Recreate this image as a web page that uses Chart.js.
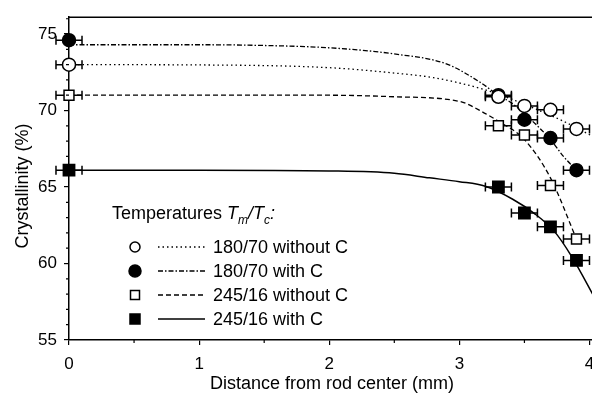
<!DOCTYPE html>
<html>
<head>
<meta charset="utf-8">
<script src="https://cdn.jsdelivr.net/npm/chart.js@4.4.1/dist/chart.umd.min.js"></script>
<style>
  html, body { margin: 0; padding: 0; background: #fff; overflow: hidden; }
  #wrap { width: 612px; height: 396px; }
</style>
</head>
<body>
<div id="wrap"><canvas id="chart" width="612" height="396"></canvas></div>
<script>
// measured points: distance (mm) vs crystallinity (%)
const pointX = [0, 3.3, 3.5, 3.7, 3.9];
const xErr = [0.1, 0.1, 0.1, 0.1, 0.1];
const open180 = [73.0, 70.9, 70.3, 70.05, 68.8];
const filled180 = [74.6, 71.0, 69.4, 68.2, 66.1];
const open245 = [71.0, 69.0, 68.4, 65.1, 61.6];
const filled245 = [66.1, 65.0, 63.3, 62.4, 60.2];

// fitted curves
const fitOpen180X = [0, 1.0, 2.0, 2.5, 2.8, 3.0, 3.2, 3.4, 3.6, 3.8, 4.05];
const fitOpen180Y = [73.0, 72.98, 72.8, 72.45, 72.15, 71.8, 71.35, 70.75, 70.05, 69.3, 68.2];
const fitFilled180X = [0, 1.0, 1.5, 2.0, 2.5, 2.9, 3.15, 3.3, 3.4, 3.55, 3.7, 3.8, 3.9];
const fitFilled180Y = [74.3, 74.3, 74.25, 74.1, 73.7, 73.05, 71.9, 71.0, 70.5, 69.4, 68.1, 67.0, 66.1];
const fitOpen245X = [0, 1.0, 2.0, 2.5, 3.0, 3.2, 3.3, 3.5, 3.7, 3.9];
const fitOpen245Y = [71.0, 71.0, 71.0, 70.9, 70.6, 69.8, 69.3, 68.1, 65.6, 61.6];
const fitFilled245X = [0, 1.0, 2.0, 2.5, 2.77, 3.0, 3.2, 3.41, 3.58, 3.73, 3.86, 4.05];
const fitFilled245Y = [66.1, 66.1, 66.05, 65.9, 65.6, 65.35, 65.05, 64.2, 63.25, 62.1, 60.5, 57.6];

const seriesLabels = ['180/70 without C', '180/70 with C', '245/16 without C', '245/16 with C'];
const xTicks = [0, 1, 2, 3, 4];
const yTicks = [55, 60, 65, 70, 75];
const xMinor = [0.5, 1.5, 2.5, 3.5];
const yMinor = [56, 57, 58, 59, 61, 62, 63, 64, 66, 67, 68, 69, 71, 72, 73, 74, 76];

const FONT = '"Liberation Sans", Arial, sans-serif';
const pts = (xs, ys) => xs.map((x, i) => ({ x: x, y: ys[i] }));

// marker / line style per series
const styles = [
  { shape: 'circle', fill: '#fff', radius: 6.5, dash: [1.5, 3] },
  { shape: 'circle', fill: '#000', radius: 6.5, dash: [5, 2, 1.5, 2] },
  { shape: 'rect', fill: '#fff', radius: 7, dash: [5, 3] },
  { shape: 'rect', fill: '#000', radius: 8, dash: [] }
];

const markerData = [open180, filled180, open245, filled245];
const fits = [
  [fitOpen180X, fitOpen180Y],
  [fitFilled180X, fitFilled180Y],
  [fitOpen245X, fitOpen245Y],
  [fitFilled245X, fitFilled245Y]
];

const datasets = [];
markerData.forEach((vals, i) => {
  datasets.push({
    label: seriesLabels[i],
    data: pts(pointX, vals),
    errX: xErr,
    showLine: false,
    pointStyle: styles[i].shape,
    pointRadius: styles[i].radius,
    pointHoverRadius: styles[i].radius,
    pointBackgroundColor: styles[i].fill,
    pointBorderColor: '#000',
    pointBorderWidth: 1.5,
    clip: false
  });
});
fits.forEach((f, i) => {
  datasets.push({
    label: seriesLabels[i] + ' fit',
    data: pts(f[0], f[1]),
    showLine: true,
    borderColor: '#000',
    borderWidth: i === 3 ? 1.5 : 1.3,
    borderDash: styles[i].dash,
    pointRadius: 0,
    cubicInterpolationMode: 'monotone',
    fill: false,
    clip: false
  });
});

// horizontal error bars under the markers
const errorBars = {
  id: 'errorBars',
  beforeDatasetsDraw(chart) {
    const { ctx, scales: { x, y } } = chart;
    ctx.save();
    ctx.strokeStyle = '#000';
    ctx.lineWidth = 1.5;
    chart.data.datasets.forEach(ds => {
      if (!ds.errX) return;
      ds.data.forEach((p, i) => {
        const py = y.getPixelForValue(p.y);
        const x0 = x.getPixelForValue(p.x - ds.errX[i]);
        const x1 = x.getPixelForValue(p.x + ds.errX[i]);
        ctx.beginPath();
        ctx.moveTo(x0, py); ctx.lineTo(x1, py);
        ctx.moveTo(x0, py - 4.5); ctx.lineTo(x0, py + 4.5);
        ctx.moveTo(x1, py - 4.5); ctx.lineTo(x1, py + 4.5);
        ctx.stroke();
      });
    });
    ctx.restore();
  }
};

function drawMarker(ctx, shape, fill, cx, cy, size) {
  ctx.beginPath();
  if (shape === 'circle') ctx.arc(cx, cy, size, 0, Math.PI * 2);
  else ctx.rect(cx - size, cy - size, size * 2, size * 2);
  ctx.fillStyle = fill;
  ctx.fill();
  ctx.lineWidth = 1.5;
  ctx.strokeStyle = '#000';
  ctx.stroke();
}

// frame, minor ticks, axis titles and the legend box
const decorations = {
  id: 'decorations',
  afterDraw(chart) {
    const { ctx, chartArea: a, scales: { x, y } } = chart;
    ctx.save();
    ctx.strokeStyle = '#000';
    ctx.lineWidth = 1.5;
    ctx.beginPath();
    ctx.moveTo(a.left, a.top);
    ctx.lineTo(a.right, a.top);
    ctx.stroke();

    ctx.lineWidth = 1.2;
    ctx.beginPath();
    xMinor.forEach(v => {
      const px = x.getPixelForValue(v);
      ctx.moveTo(px, a.bottom); ctx.lineTo(px, a.bottom + 3);
    });
    yMinor.forEach(v => {
      const py = y.getPixelForValue(v);
      ctx.moveTo(a.left, py); ctx.lineTo(a.left - 3, py);
    });
    ctx.stroke();

    // axis titles
    ctx.fillStyle = '#000';
    ctx.font = '18px ' + FONT;
    ctx.textAlign = 'center';
    ctx.textBaseline = 'middle';
    ctx.fillText('Distance from rod center (mm)', 332, 384);
    ctx.save();
    ctx.translate(23, 186);
    ctx.rotate(-Math.PI / 2);
    ctx.fillText('Crystallinity (%)', 0, 0);
    ctx.restore();

    // legend title with italic subscripts
    ctx.textAlign = 'left';
    ctx.textBaseline = 'alphabetic';
    let tx = 112;
    const base = 219;
    const parts = [
      ['Temperatures ', '18px ' + FONT, 0],
      ['T', 'italic 18px ' + FONT, 0],
      ['m', 'italic 12px ' + FONT, 5],
      ['/', 'italic 18px ' + FONT, 0],
      ['T', 'italic 18px ' + FONT, 0],
      ['c', 'italic 12px ' + FONT, 5],
      [':', 'italic 18px ' + FONT, 0]
    ];
    parts.forEach(p => {
      ctx.font = p[1];
      ctx.fillText(p[0], tx, base + p[2]);
      tx += ctx.measureText(p[0]).width;
    });

    // legend rows
    const rowY = [247, 271, 295, 319];
    const legendSize = [5, 6, 4.5, 5];
    seriesLabels.forEach((lab, i) => {
      const ry = rowY[i];
      drawMarker(ctx, styles[i].shape, styles[i].fill, 135, ry, legendSize[i]);
      ctx.beginPath();
      ctx.setLineDash(styles[i].dash);
      ctx.lineWidth = 1.3;
      ctx.moveTo(158, ry);
      ctx.lineTo(205, ry);
      ctx.stroke();
      ctx.setLineDash([]);
      ctx.font = '18px ' + FONT;
      ctx.textBaseline = 'middle';
      ctx.fillStyle = '#000';
      ctx.fillText(lab, 213, ry + 1);
    });
    ctx.restore();
  }
};

new Chart(document.getElementById('chart'), {
  type: 'scatter',
  data: { datasets: datasets },
  options: {
    responsive: false,
    animation: false,
    events: [],
    layout: { padding: { left: 0, top: 14, right: 4, bottom: 0 } },
    plugins: { legend: { display: false }, tooltip: { enabled: false } },
    scales: {
      x: {
        type: 'linear',
        min: 0,
        max: 4.1,
        afterBuildTicks: s => { s.ticks = xTicks.map(v => ({ value: v })); },
        afterFit: s => { s.height = 56; },
        grid: { drawOnChartArea: false, drawTicks: true, tickLength: 5, color: '#000', lineWidth: 1.2 },
        border: { display: true, color: '#000', width: 1.5 },
        ticks: { color: '#000', padding: 9, maxRotation: 0, font: { family: FONT, size: 17 } }
      },
      y: {
        type: 'linear',
        min: 55,
        max: 76.1,
        afterBuildTicks: s => { s.ticks = yTicks.map(v => ({ value: v })); },
        afterFit: s => { s.width = 69; },
        grid: { drawOnChartArea: false, drawTicks: true, tickLength: 5, color: '#000', lineWidth: 1.2 },
        border: { display: true, color: '#000', width: 1.5 },
        ticks: { color: '#000', padding: 7, font: { family: FONT, size: 17 } }
      }
    }
  },
  plugins: [errorBars, decorations]
});
</script>
</body>
</html>
